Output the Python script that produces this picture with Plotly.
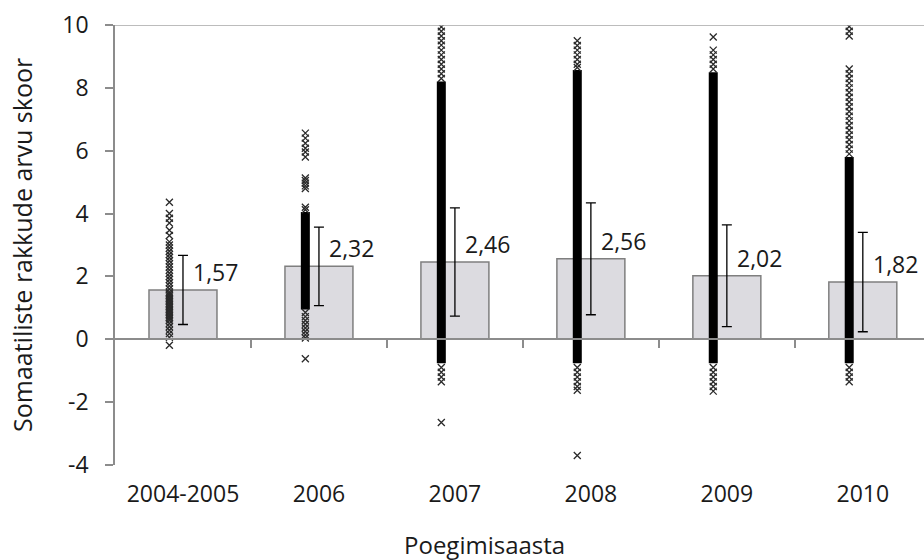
import plotly.graph_objects as go

# ---------------- data ----------------
categories = ["2004-2005", "2006", "2007", "2008", "2009", "2010"]
mean_scores = [1.57, 2.32, 2.46, 2.56, 2.02, 1.82]
sd_scores = [1.10, 1.25, 1.72, 1.78, 1.62, 1.58]

# individual (visible) observations per year
obs_2004_2005 = [4.36, 4.0, 3.85, 3.7, 3.47, 3.3, 3.1, 3.0, 2.9, 2.8, 2.7, 2.6, 2.5,
                 2.4, 2.3, 2.2, 2.1, 2.0, 1.9, 1.8, 1.7, 1.6, 1.5, 1.45, 1.4, 1.35,
                 1.3, 1.25, 1.2, 1.15, 1.1, 1.05, 1.0, 0.95, 0.9, 0.85, 0.8, 0.75,
                 0.7, 0.65, 0.6, 0.5, 0.4, 0.29, 0.18, 0.06, -0.19]
obs_2006 = [6.56, 6.4, 6.24, 6.08, 5.96, 5.8, 5.13, 5.05, 4.97, 4.88, 4.8, 4.2,
            4.12, 0.85, 0.72, 0.6, 0.48, 0.36, 0.25, 0.14, 0.04, -0.62]
obs_2007 = [9.94, 9.8, 9.65, 9.5, 9.36, 9.2, 9.05, 8.9, 8.75, 8.6, 8.45, 8.3,
            -0.9, -1.05, -1.2, -1.35, -2.65]
obs_2008 = [9.5, 9.35, 9.2, 9.05, 8.9, 8.75, 8.65,
            -0.9, -1.05, -1.2, -1.35, -1.5, -1.62, -3.7]
obs_2009 = [9.62, 9.2, 9.05, 8.9, 8.75, 8.6,
            -0.9, -1.05, -1.2, -1.35, -1.5, -1.65]
obs_2010 = [9.95, 9.8, 9.65, 8.6, 8.45, 8.3, 8.15, 8.0, 7.85, 7.7, 7.55, 7.4,
            7.25, 7.1, 6.95, 6.8, 6.65, 6.5, 6.35, 6.2, 6.05, 5.9,
            -0.9, -1.05, -1.2, -1.35]
observations = [obs_2004_2005, obs_2006, obs_2007, obs_2008, obs_2009, obs_2010]

# ranges where observations are so dense they merge into a solid column
dense_low = [None, 0.95, -0.76, -0.76, -0.76, -0.76]
dense_high = [None, 4.05, 8.2, 8.57, 8.5, 5.8]

y_tickvals = [-4, -2, 0, 2, 4, 6, 8, 10]
y_ticktext = ["-4", "-2", "0", "2", "4", "6", "8", "10"]
y_range = [-4, 10]
x_range = [-0.5, 5.45]

# ---------------- style ----------------
FONT = "Open Sans"
TEXT = "#1a1a1a"
AXIS_GREY = "#8c8c8c"
BAR_FILL = "#dcdbe0"
BAR_LINE = "#7f7f7f"
POINT_OFFSET = -0.1
LABEL_OFFSET = 0.06

fig = go.Figure()

x_pos = list(range(len(categories)))

fig.add_trace(go.Bar(
    x=x_pos, y=mean_scores, width=0.5,
    marker=dict(color=BAR_FILL, line=dict(color=BAR_LINE, width=1.5)),
    error_y=dict(type="data", array=sd_scores, symmetric=True,
                 color="black", thickness=1.3, width=5),
    showlegend=False, hoverinfo="skip",
))

# dense columns
for i, (lo, hi) in enumerate(zip(dense_low, dense_high)):
    if lo is None:
        continue
    fig.add_trace(go.Scatter(
        x=[i + POINT_OFFSET, i + POINT_OFFSET], y=[lo, hi],
        mode="lines", line=dict(color="black", width=9),
        xaxis="x2", showlegend=False, hoverinfo="skip",
    ))

# individual observations
for i, vals in enumerate(observations):
    fig.add_trace(go.Scatter(
        x=[i + POINT_OFFSET] * len(vals), y=vals,
        mode="markers",
        marker=dict(symbol="x-thin", size=7, color="#2a2a2a",
                    line=dict(color="#2a2a2a", width=1.3)),
        xaxis="x2", showlegend=False, hoverinfo="skip",
    ))

# data labels
for i, v in enumerate(mean_scores):
    fig.add_annotation(
        x=i + LABEL_OFFSET, y=v + 0.57, xref="x", yref="y",
        text=f"{v:.2f}".replace(".", ","), showarrow=False,
        xanchor="left", yanchor="middle",
        font=dict(family=FONT, size=23, color=TEXT),
    )

# top border line at y max
fig.add_shape(type="line", xref="paper", yref="y", x0=0, x1=1,
              y0=y_range[1], y1=y_range[1],
              line=dict(color="#a6a6a6", width=1.5))

zero_pos = (0 - y_range[0]) / (y_range[1] - y_range[0])

fig.update_layout(
    width=924, height=560,
    margin=dict(l=115, r=0, t=25, b=95, autoexpand=False),
    paper_bgcolor="white", plot_bgcolor="white",
    font=dict(family=FONT, size=23, color=TEXT),
    xaxis=dict(
        range=x_range, tickmode="array", tickvals=x_pos, ticktext=categories,
        showline=False, showgrid=False, zeroline=False,
        ticks="outside", ticklen=8, tickcolor="rgba(0,0,0,0)",
        tickfont=dict(family=FONT, size=23, color=TEXT),
    ),
    xaxis2=dict(
        range=x_range, overlaying="x", anchor="free", position=zero_pos,
        side="bottom", tickmode="array",
        tickvals=[i + 0.5 for i in x_pos],
        showticklabels=False, showline=True, linecolor=AXIS_GREY, linewidth=1.5,
        ticks="outside", ticklen=8, tickcolor=AXIS_GREY, tickwidth=1.5,
        showgrid=False, zeroline=False,
    ),
    yaxis=dict(
        range=y_range, tickmode="array", tickvals=y_tickvals, ticktext=y_ticktext,
        showline=True, linecolor=AXIS_GREY, linewidth=1.5,
        ticks="outside", ticklen=8, tickcolor=AXIS_GREY, tickwidth=1.5,
        ticklabelstandoff=12,
        showgrid=False, zeroline=False,
        tickfont=dict(family=FONT, size=23, color=TEXT),
    ),
)

# axis titles
fig.add_annotation(
    text="Poegimisaasta", xref="paper", yref="paper",
    x=(484 - 115) / (924 - 115), y=(465 - 544) / 440,
    showarrow=False, xanchor="center", yanchor="middle",
    font=dict(family=FONT, size=24, color=TEXT),
)
fig.add_annotation(
    text="Somaatiliste rakkude arvu skoor", xref="paper", yref="paper",
    x=(22 - 115) / (924 - 115), y=0.5, textangle=-90,
    showarrow=False, xanchor="center", yanchor="middle",
    font=dict(family=FONT, size=25, color=TEXT),
)

fig.write_html(
    "out.html",
    config={"displayModeBar": False},
    post_script="document.body.style.margin='0';document.body.style.overflow='hidden';",
)
